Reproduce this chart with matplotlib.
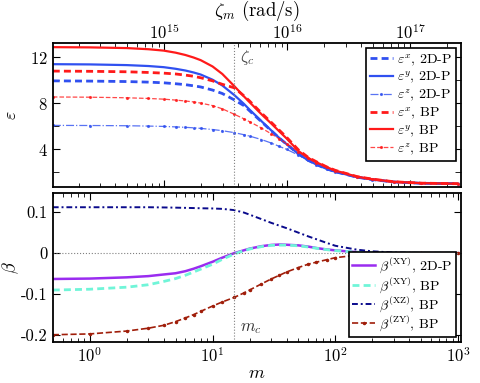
import matplotlib
matplotlib.use("Agg")
import matplotlib.pyplot as plt
import matplotlib.ticker as mticker

plt.rcParams["font.family"] = "serif"
plt.rcParams["font.serif"] = ["cmr10", "DejaVu Serif"]
plt.rcParams["mathtext.fontset"] = "cm"
plt.rcParams["axes.unicode_minus"] = False
plt.rcParams["axes.formatter.use_mathtext"] = True

# ── Data ──────────────────────────────────────────────────────────────
m = [0.5, 1, 2, 3, 4, 5, 6, 7, 8, 10, 12, 15, 18, 20, 25, 30, 35, 40,
     50, 60, 70, 85, 100, 150, 200, 300, 500, 1000]
zeta_per_m = 2.47e14          # rad/s per Matsubara index
m_c = 15

eps_x_2dp = [9.95, 9.93, 9.89, 9.84, 9.78, 9.70, 9.62, 9.52, 9.42, 9.15, 8.85, 8.30, 7.80, 7.35,
             6.40, 5.62, 4.97, 4.45, 3.60, 3.05, 2.68, 2.30, 2.05, 1.58, 1.37, 1.16, 1.05, 1.01]
eps_y_2dp = [11.40, 11.38, 11.32, 11.24, 11.14, 11.00, 10.85, 10.68, 10.50, 10.05, 9.55, 8.72, 7.95, 7.45,
             6.45, 5.65, 4.98, 4.45, 3.60, 3.05, 2.68, 2.30, 2.05, 1.58, 1.37, 1.16, 1.05, 1.01]
eps_z_2dp = [6.08, 6.07, 6.05, 6.02, 5.99, 5.95, 5.91, 5.87, 5.82, 5.72, 5.62, 5.45, 5.27, 5.15,
             4.85, 4.55, 4.25, 4.00, 3.50, 3.05, 2.68, 2.30, 2.03, 1.56, 1.36, 1.15, 1.05, 1.01]
eps_x_bp = [10.80, 10.78, 10.74, 10.68, 10.62, 10.55, 10.45, 10.35, 10.22, 9.95, 9.65, 9.35, 8.65, 8.20,
            7.15, 6.35, 5.65, 5.05, 3.95, 3.30, 2.92, 2.47, 2.17, 1.63, 1.41, 1.18, 1.06, 1.01]
eps_y_bp = [12.88, 12.86, 12.80, 12.70, 12.58, 12.40, 12.20, 11.98, 11.75, 11.20, 10.55, 9.50, 8.60, 8.10,
            7.05, 6.25, 5.55, 4.95, 3.85, 3.25, 2.88, 2.45, 2.15, 1.62, 1.40, 1.18, 1.06, 1.01]
eps_z_bp = [8.55, 8.53, 8.48, 8.42, 8.36, 8.28, 8.20, 8.12, 8.02, 7.80, 7.52, 7.05, 6.65, 6.40,
            5.85, 5.35, 4.90, 4.50, 3.80, 3.25, 2.85, 2.43, 2.13, 1.62, 1.40, 1.18, 1.06, 1.01]

b_xy_2dp = [-0.063, -0.062, -0.059, -0.056, -0.052, -0.049, -0.044, -0.038, -0.032, -0.021, -0.011, 0.000, 0.007, 0.011,
            0.017, 0.020, 0.021, 0.0205, 0.019, 0.016, 0.0125, 0.009, 0.0068, 0.0025, 0.001, 0.0003, 0.0, 0.0]
b_xy_bp = [-0.090, -0.088, -0.083, -0.077, -0.069, -0.062, -0.054, -0.046, -0.039, -0.027, -0.015, -0.002, 0.006, 0.010,
           0.016, 0.019, 0.0195, 0.0195, 0.018, 0.015, 0.012, 0.0085, 0.0062, 0.0023, 0.001, 0.0003, 0.0, 0.0]
b_xz_bp = [0.112, 0.112, 0.112, 0.112, 0.1115, 0.111, 0.1105, 0.110, 0.1095, 0.109, 0.108, 0.105, 0.099, 0.094,
           0.083, 0.074, 0.067, 0.061, 0.050, 0.041, 0.034, 0.025, 0.018, 0.0085, 0.0045, 0.0015, 0.0003, 0.0]
b_zy_bp = [-0.199, -0.197, -0.190, -0.183, -0.176, -0.167, -0.158, -0.150, -0.142, -0.129, -0.119, -0.108, -0.097, -0.090,
           -0.075, -0.063, -0.054, -0.046, -0.035, -0.027, -0.022, -0.016, -0.011, -0.005, -0.0025, -0.001, 0.0, 0.0]

zeta = [v * zeta_per_m for v in m]
zeta_c = m_c * zeta_per_m

RED = "#ff1a1a"
BLUE = "#3050f0"

fig = plt.figure(figsize=(4.8, 3.83), dpi=100)
ax1 = fig.add_axes([0.110, 0.5125, 0.850, 0.3755])
ax2 = fig.add_axes([0.110, 0.1078, 0.850, 0.3875])

# ── Top panel: permittivities vs zeta ─────────────────────────────────
ax1.plot(zeta, eps_x_2dp, color=BLUE, lw=2, ls=(0, (2.5, 1.5)), label=r"$\varepsilon^x$, 2D-P")
ax1.plot(zeta, eps_y_2dp, color=BLUE, lw=1.6, label=r"$\varepsilon^y$, 2D-P")
ax1.plot(zeta, eps_z_2dp, color=BLUE, lw=0.9, ls="-.", marker=".", ms=2.5, alpha=0.8,
         label=r"$\varepsilon^z$, 2D-P")
ax1.plot(zeta, eps_x_bp, color=RED, lw=2, ls=(0, (2.5, 1.5)), label=r"$\varepsilon^x$, BP")
ax1.plot(zeta, eps_y_bp, color=RED, lw=1.6, label=r"$\varepsilon^y$, BP")
ax1.plot(zeta, eps_z_bp, color=RED, lw=0.9, ls="--", marker=".", ms=2.5, alpha=0.8,
         label=r"$\varepsilon^z$, BP")

ax1.axvline(zeta_c, color="gray", ls=":", lw=0.8)
ax1.text(zeta_c * 1.12, 11.6, r"$\zeta_c$", fontsize=12, color="#444444")

ax1.set_xscale("log")
ax1.set_xlim(0.5 * zeta_per_m, 1050 * zeta_per_m)
ax1.set_ylim(0.75, 13.25)
ax1.set_yticks([4, 8, 12])
ax1.set_yticks([2, 6, 10], minor=True)
ax1.set_ylabel(r"$\varepsilon$", fontsize=13, labelpad=8)
ax1.xaxis.set_label_position("top")
ax1.set_xlabel(r"$\zeta_m$ (rad/s)", fontsize=13.5, labelpad=4.5)
ax1.tick_params(axis="x", which="both", direction="in", top=True, bottom=True,
                labeltop=True, labelbottom=False, pad=1)
ax1.tick_params(axis="y", which="both", direction="in", left=True, right=True, length=4)
ax1.tick_params(which="major", length=5)
ax1.tick_params(which="minor", axis="x", length=3)
ax1.tick_params(labelsize=12)
leg1 = ax1.legend(loc="upper right", fontsize=10, frameon=True, fancybox=False,
                  edgecolor="black", framealpha=1, handlelength=1.6,
                  handletextpad=0.3, labelspacing=0.15, borderpad=0.3,
                  borderaxespad=0.35)
leg1.get_frame().set_linewidth(1.2)

# ── Bottom panel: beta vs m ───────────────────────────────────────────
ax2.plot(m, b_xy_2dp, color="#9a2cf0", lw=1.8, label=r"$\beta^{(\mathrm{XY})}$, 2D-P")
ax2.plot(m, b_xy_bp, color="#70f5d8", lw=2, ls=(0, (2.5, 1.5)), label=r"$\beta^{(\mathrm{XY})}$, BP")
ax2.plot(m, b_xz_bp, color="#0a0a8c", lw=1.4, ls=(0, (3, 1.5, 1, 1.5)), label=r"$\beta^{(\mathrm{XZ})}$, BP")
ax2.plot(m, b_zy_bp, color="#a01e0a", lw=1.2, ls="--", marker=".", ms=3,
         label=r"$\beta^{(\mathrm{ZY})}$, BP")

ax2.axvline(m_c, color="gray", ls=":", lw=0.8)
ax2.axhline(0, color="gray", ls=":", lw=0.8)
ax2.text(m_c * 1.12, -0.19, r"$m_c$", fontsize=12, color="#333333")

ax2.set_xscale("log")
ax2.set_xlim(0.5, 1050)
ax2.set_ylim(-0.216, 0.146)
ax2.set_yticks([-0.2, -0.1, 0, 0.1])
ax2.yaxis.set_major_formatter(mticker.FuncFormatter(lambda v, p: "0" if abs(v) < 1e-9 else f"{v:.1f}"))
ax2.set_xlabel(r"$m$", fontsize=13, labelpad=0)
ax2.set_ylabel(r"$\beta$", fontsize=13, labelpad=0)
ax2.tick_params(which="both", direction="in", top=True, right=True)
ax2.tick_params(which="major", length=5)
ax2.tick_params(which="minor", length=3)
ax2.tick_params(labelsize=12)
leg2 = ax2.legend(loc="lower right", fontsize=10, frameon=True, fancybox=False,
                  edgecolor="black", framealpha=1, handlelength=1.6,
                  handletextpad=0.3, labelspacing=0.0, borderpad=0.25,
                  borderaxespad=0.35)
leg2.get_frame().set_linewidth(1.2)

for ax in (ax1, ax2):
    for s in ax.spines.values():
        s.set_linewidth(1.3)

fig.savefig("out.png", dpi=100)
